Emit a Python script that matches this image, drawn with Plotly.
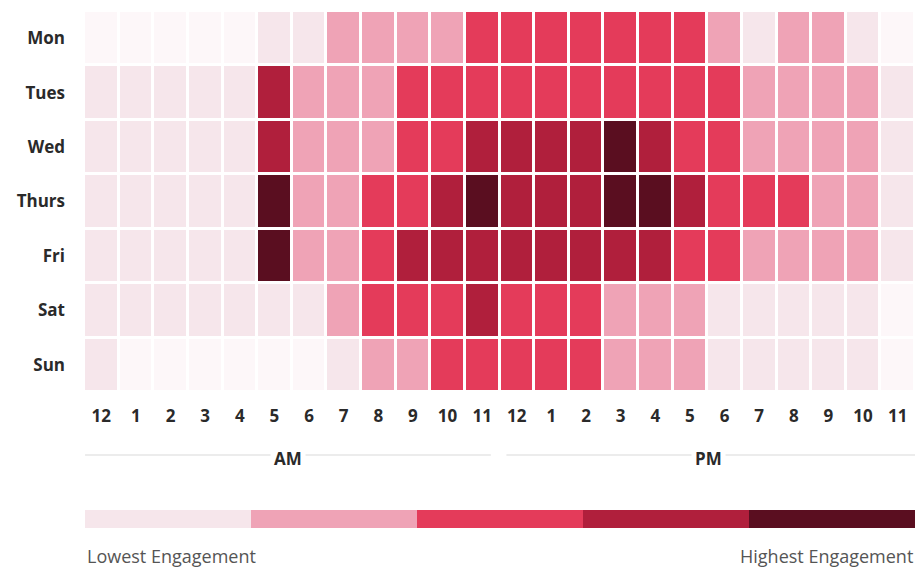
import plotly.graph_objects as go

days = ["Mon", "Tues", "Wed", "Thurs", "Fri", "Sat", "Sun"]
hour_labels = ["12", "1", "2", "3", "4", "5", "6", "7", "8", "9", "10", "11",
               "12", "1", "2", "3", "4", "5", "6", "7", "8", "9", "10", "11"]

# engagement level per day (0 = none .. 5 = highest), hours 12AM..11PM
mon   = [0, 0, 0, 0, 0, 1, 1, 2, 2, 2, 2, 3, 3, 3, 3, 3, 3, 3, 2, 1, 2, 2, 1, 0]
tues  = [1, 1, 1, 1, 1, 4, 2, 2, 2, 3, 3, 3, 3, 3, 3, 3, 3, 3, 3, 2, 2, 2, 2, 1]
wed   = [1, 1, 1, 1, 1, 4, 2, 2, 2, 3, 3, 4, 4, 4, 4, 5, 4, 3, 3, 2, 2, 2, 2, 1]
thurs = [1, 1, 1, 1, 1, 5, 2, 2, 3, 3, 4, 5, 4, 4, 4, 5, 5, 4, 3, 3, 3, 2, 2, 1]
fri   = [1, 1, 1, 1, 1, 5, 2, 2, 3, 4, 4, 4, 4, 4, 4, 4, 4, 3, 3, 2, 2, 2, 2, 1]
sat   = [1, 1, 1, 1, 1, 1, 1, 2, 3, 3, 3, 4, 3, 3, 3, 2, 2, 2, 1, 1, 1, 1, 1, 0]
sun   = [1, 0, 0, 0, 0, 0, 0, 1, 2, 2, 3, 3, 3, 3, 3, 2, 2, 2, 1, 1, 1, 1, 1, 0]

legend_levels = [1, 2, 3, 4, 5]
level_colors = ["#fdf7f9", "#f6e6eb", "#efa3b6", "#e43b5a", "#b01f3c", "#5a0e20"]

z = [mon, tues, wed, thurs, fri, sat, sun]
n = len(level_colors)
colorscale = []
for i, c in enumerate(level_colors):
    colorscale.append([i / n, c])
    colorscale.append([(i + 1) / n, c])

W, H = 918, 569
ML, MR, MT, MB = 84, 3, 10, 40
PH = H - MT - MB


def ydom(top_px, bot_px):
    return [1 - (bot_px - MT) / PH, 1 - (top_px - MT) / PH]


def ypaper(px):
    return 1 - (px - MT) / PH


fig = go.Figure()
fig.add_trace(go.Heatmap(
    z=z, x=list(range(24)), y=days,
    colorscale=colorscale, zmin=-0.5, zmax=n - 0.5,
    showscale=False, xgap=3, ygap=3, hoverinfo="skip",
))
fig.add_trace(go.Heatmap(
    z=[legend_levels], x=list(range(len(legend_levels))), y=[0],
    colorscale=colorscale, zmin=-0.5, zmax=n - 0.5,
    showscale=False, xaxis="x2", yaxis="y2", hoverinfo="skip",
))

FONT = "Open Sans, Lato, sans-serif"
tickfont = dict(family=FONT, size=17, color="#2a2a2a", weight="bold")

fig.update_layout(
    width=W, height=H,
    margin=dict(l=ML, r=MR, t=MT, b=MB),
    paper_bgcolor="white", plot_bgcolor="white",
    xaxis=dict(domain=[0, 1], range=[-0.5, 23.5], tickmode="array",
               tickvals=list(range(24)), ticktext=hour_labels,
               showgrid=False, zeroline=False, showline=False, ticks="",
               tickfont=tickfont, anchor="y", ticklabelstandoff=12),
    yaxis=dict(domain=ydom(11, 392), autorange="reversed",
               showgrid=False, zeroline=False, showline=False, ticks="",
               tickfont=tickfont, ticklabelstandoff=18, anchor="x"),
    xaxis2=dict(domain=[0.0012, 1], range=[-0.5, 4.5], visible=False, anchor="y2"),
    yaxis2=dict(domain=ydom(510, 528), visible=False, anchor="x2"),
)

line_y = ypaper(455)
for x0, x1 in [(-0.47, 11.25), (11.7, 23.5)]:
    fig.add_shape(type="line", xref="x", yref="paper", x0=x0, x1=x1,
                  y0=line_y, y1=line_y, line=dict(color="#e6e6e6", width=1.5))

for xc, txt in [(5.4, "AM"), (17.55, "PM")]:
    fig.add_annotation(x=xc, y=line_y, xref="x", yref="paper", text=txt,
                       showarrow=False, bgcolor="white", borderpad=3,
                       xanchor="center", yanchor="middle",
                       font=dict(family=FONT, size=17, color="#2a2a2a", weight="bold"),
                       yshift=-3)

labfont = dict(family=FONT, size=18, color="#555555")
fig.add_annotation(x=0.0012, y=ypaper(556), xref="paper", yref="paper",
                   text="Lowest Engagement", showarrow=False,
                   xanchor="left", yanchor="middle", font=labfont)
fig.add_annotation(x=1, y=ypaper(556), xref="paper", yref="paper",
                   text="Highest Engagement", showarrow=False,
                   xanchor="right", yanchor="middle", font=labfont)

fig.write_html("out.html", config={"displayModeBar": False},
               post_script="document.body.style.margin='0';document.body.style.overflow='hidden';")
